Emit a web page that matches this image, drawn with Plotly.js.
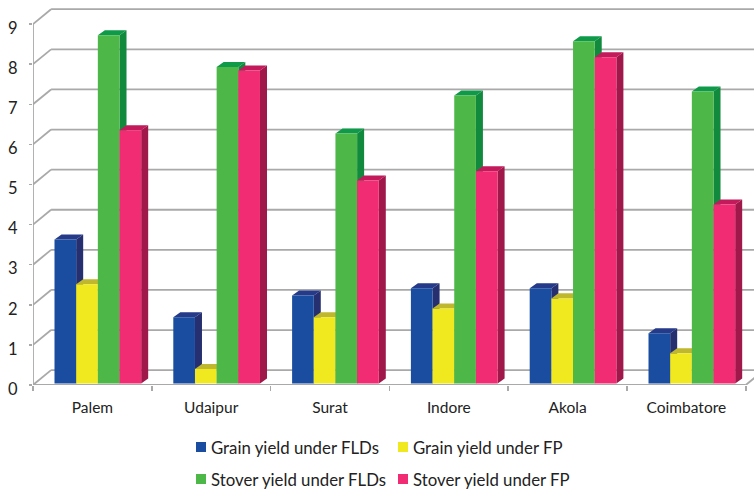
<!DOCTYPE html>
<html><head><meta charset="utf-8">
<script src="https://cdn.plot.ly/plotly-3.0.1.min.js"></script>
<style>html,body{margin:0;padding:0;background:#fff}</style></head>
<body><div id="chart" style="width:754px;height:491px"></div>
<script>
const categories = ["Palem","Udaipur","Surat","Indore","Akola","Coimbatore"];
const grainFLD  = [3.59,1.65,2.19,2.37,2.37,1.25];
const grainFP   = [2.47,0.36,1.65,1.87,2.12,0.75];
const stoverFLD = [8.68,7.89,6.23,7.18,8.53,7.28];
const stoverFP  = [6.31,7.80,5.06,5.29,8.13,4.46];
const seriesNames = ["Grain yield under FLDs","Grain yield under FP","Stover yield under FLDs","Stover yield under FP"];
const seriesValues = [grainFLD,grainFP,stoverFLD,stoverFP];
const frontColors = ["#1a4da0","#f0e920","#4db848","#f22c72"];
const sideColors  = ["#263070","#a8a32a","#128a3e","#a0174a"];
const topColors   = ["#263a8a","#bfb82e","#0f9a4a","#c21a5b"];
const yTicks = [0,1,2,3,4,5,6,7,8,9];

const W=754,H=491,ML=33,PH=385;
const barW=0.1824, groupStart=-0.319, depthX=0.059, depthY=0.125, floorY=0.04;
const wallX=0.152, wallY=0.37, lineCol="#a9a9a9";
const xMin=-0.5, xMax=5.569, yMax=9.6;
const xs=categories.map((_,i)=>i);
const traces=[];
const seg=(xx,yy,w)=>({type:"scatter",mode:"lines",x:xx,y:yy,line:{color:lineCol,width:w||1.8},hoverinfo:"skip",showlegend:false,zorder:0,cliponaxis:false});
yTicks.forEach(v=>{
  traces.push(seg([xMin+wallX,xMax],[v+wallY,v+wallY]));
  traces.push(seg([xMin,xMin+wallX],[v,v+wallY]));
});
traces.push(seg([xMin,xMin],[0,9]));
traces.push(seg([xMin,5.5],[0,0]));
traces.push(seg([5.5,5.5+wallX],[0,wallY]));

seriesValues.forEach((vals,s)=>{
  const sx=[],sy=[],tx=[],ty=[];
  vals.forEach((v,i)=>{
    const l=i+groupStart+s*barW, r=l+barW, t=v+floorY;
    sx.push(r,r+depthX,r+depthX,r,r,null); sy.push(floorY,floorY+depthY,t+depthY,t,floorY,null);
    tx.push(l,l+depthX,r+depthX,r,l,null); ty.push(t,t+depthY,t+depthY,t,t,null);
  });
  traces.push({type:"scatter",mode:"lines",x:sx,y:sy,fill:"toself",fillcolor:sideColors[s],line:{width:0,color:sideColors[s]},hoverinfo:"skip",showlegend:false,zorder:2*s+1});
  traces.push({type:"scatter",mode:"lines",x:tx,y:ty,fill:"toself",fillcolor:topColors[s],line:{width:0,color:topColors[s]},hoverinfo:"skip",showlegend:false,zorder:2*s+1});
  traces.push({type:"bar",name:seriesNames[s],x:xs.map(i=>i+groupStart+(s+0.5)*barW),y:vals,base:floorY,width:barW,
    marker:{color:frontColors[s],line:{width:0}},zorder:2*s+2,showlegend:false});
});
// key: swatch left edges and row centres (px)
const keyX=[196,398,196,398], keyY=[447,447,479,479];
const px=v=>(v-ML)/(W-ML), py=v=>(PH-v)/PH;
const shapes=seriesNames.map((n,s)=>({type:"rect",xref:"paper",yref:"paper",
  x0:px(keyX[s]),x1:px(keyX[s]+10),y0:py(keyY[s]+5),y1:py(keyY[s]-5),fillcolor:frontColors[s],line:{width:0}}));
const annotations=seriesNames.map((n,s)=>({xref:"paper",yref:"paper",xanchor:"left",yanchor:"middle",showarrow:false,
  x:px(keyX[s]+15),y:py(keyY[s]),text:n,font:{family:"Lato",size:16.8,color:"#222"},borderpad:0,borderwidth:0}));
Plotly.newPlot("chart",traces,{
  width:W,height:H,paper_bgcolor:"#fff",plot_bgcolor:"#fff",
  margin:{l:ML,r:0,t:0,b:H-PH,pad:0},barmode:"overlay",showlegend:false,shapes,annotations,
  xaxis:{range:[xMin,xMax],tickmode:"array",tickvals:xs,ticktext:categories,ticks:"",showgrid:false,zeroline:false,showline:false,
    tickfont:{family:"Lato",size:15.5,color:"#222"},ticklabelstandoff:11,
    minor:{tickmode:"array",tickvals:[-0.5,0.5,1.5,2.5,3.5,4.5,5.5],ticks:"outside",ticklen:5,tickwidth:1.5,tickcolor:lineCol,showgrid:false}},
  yaxis:{range:[0,yMax],tickmode:"array",tickvals:yTicks,ticks:"outside",ticklen:3,tickwidth:1.5,tickcolor:lineCol,showgrid:false,zeroline:false,showline:false,
    tickfont:{family:"Lato",size:16.5,color:"#222"},ticklabelstandoff:8,ticklabelshift:4}
},{displayModeBar:false,staticPlot:true});
</script></body></html>
